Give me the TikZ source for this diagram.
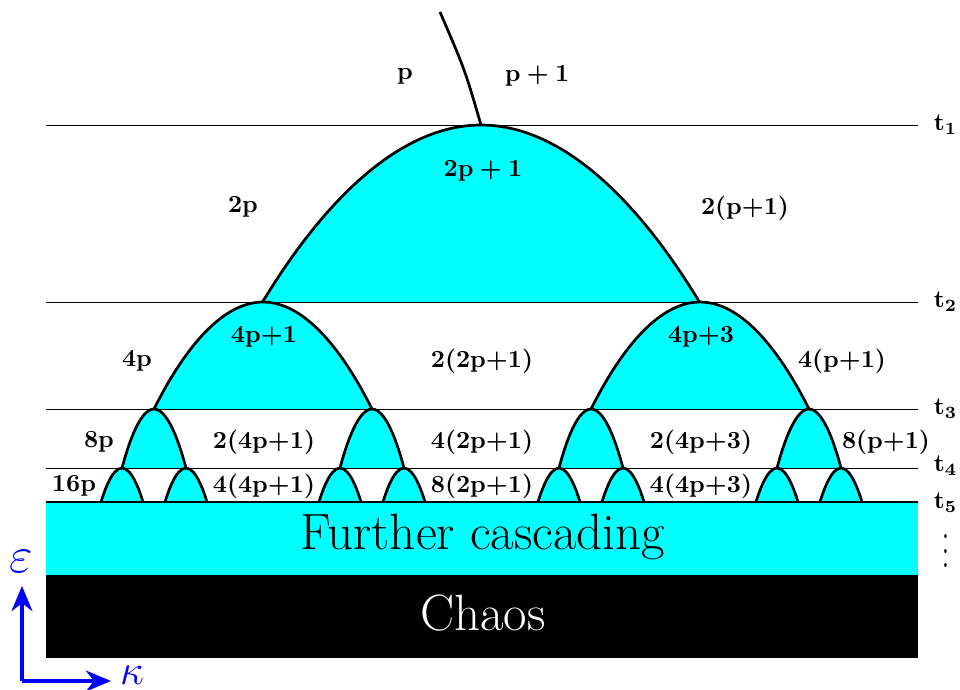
\documentclass[tikz,border=0pt]{standalone}
\usepackage{amsmath}
\usepackage{amssymb}
\usepackage{xcolor}
\usetikzlibrary{arrows.meta}
\definecolor{aqua}{RGB}{0,255,255}

\begin{document}
\begin{tikzpicture}[
  x=0.142857mm, y=-0.142857mm,
  level/.style={line width=0.4pt},
  bumpline/.style={line width=1.1pt},
  lbl/.style={inner sep=1pt, font=\boldmath},
  tlbl/.style={anchor=west, inner sep=1pt, font=\boldmath},
  band/.style={rectangle, inner sep=0pt, font=\huge},
  axis/.style={blue, line width=1.3pt, -{Stealth[length=3.6mm, width=3mm]}}
]
\useasboundingbox (0,0) rectangle (960,689);

% Bands at the bottom
\fill[aqua] (46,502) rectangle (918,575);
\fill[black] (46,575) rectangle (918,658);
\node[band] (casc) at (483,537) {Further cascading};
\node[band, text=white] (chaos) at (483,613) {Chaos};

% Bumps: apex x / apex y / half width / base y
\foreach \xa/\ya/\hw/\yb in {481/125/218.5/302,
    263/302/109/409, 700/302/109/409,
    154/409/32/468, 372/409/32/468, 591/409/32/468, 809/409/32/468,
    122/468/21/502, 186/468/21/502, 340/468/21/502, 404/468/21/502,
    559/468/21/502, 623/468/21/502, 777/468/21/502, 841/468/21/502}
  \fill[aqua] (\xa-\hw,\yb) parabola bend (\xa,\ya) (\xa+\hw,\yb) -- cycle;

% Levels t1 ... t5
\foreach \yl/\name in {125/1, 302/2, 409/3, 468/4} {
  \coordinate (l\name) at (46,\yl);
  \coordinate (r\name) at (918,\yl);
  \draw[level] (l\name) -- (r\name);
}
\coordinate (l5) at (46,502);
\coordinate (r5) at (918,502);
\draw[bumpline] (l5) -- (r5);

\foreach \xa/\ya/\hw/\yb in {481/125/218.5/302,
    263/302/109/409, 700/302/109/409,
    154/409/32/468, 372/409/32/468, 591/409/32/468, 809/409/32/468,
    122/468/21/502, 186/468/21/502, 340/468/21/502, 404/468/21/502,
    559/468/21/502, 623/468/21/502, 777/468/21/502, 841/468/21/502}
  \draw[bumpline] (\xa-\hw,\yb) parabola bend (\xa,\ya) (\xa+\hw,\yb);

% Incoming branch
\coordinate (top) at (440,12);
\coordinate (apex) at (481,125);
\draw[bumpline] (top) .. controls (465,70) .. (apex);

% t labels
\node[tlbl] (t1) at (931,125) {$\mathbf{t_1}$};
\node[tlbl] (t2) at (931,302) {$\mathbf{t_2}$};
\node[tlbl] (t3) at (931,409) {$\mathbf{t_3}$};
\node[tlbl] (t4) at (931,466) {$\mathbf{t_4}$};
\node[tlbl] (t5) at (931,503) {$\mathbf{t_5}$};
\node[lbl] (more) at (946,540) {\scalebox{1}[1.5]{$\vdots$}};

% Row 0
\node[lbl] (p0) at (405,76) {$\mathbf{p}$};
\node[lbl] (p1) at (537,76) {$\mathbf{p+1}$};
% Row 1
\node[lbl] (a1) at (483,171) {$\mathbf{2p+1}$};
\node[lbl] (a0) at (243,207) {$\mathbf{2p}$};
\node[lbl] (a2) at (745,208) {$\mathbf{2(p{+}1)}$};
% Row 2
\node[lbl] (b0) at (137,361) {$\mathbf{4p}$};
\node[lbl] (b1) at (264,337) {$\mathbf{4p{+}1}$};
\node[lbl] (b2) at (482,361) {$\mathbf{2(2p{+}1)}$};
\node[lbl] (b3) at (701,337) {$\mathbf{4p{+}3}$};
\node[lbl] (b4) at (842,361) {$\mathbf{4(p{+}1)}$};
% Row 3
\node[lbl] (c0) at (99,442) {$\mathbf{8p}$};
\node[lbl] (c1) at (264,442) {$\mathbf{2(4p{+}1)}$};
\node[lbl] (c2) at (482,442) {$\mathbf{4(2p{+}1)}$};
\node[lbl] (c3) at (701,442) {$\mathbf{2(4p{+}3)}$};
\node[lbl] (c4) at (886,442) {$\mathbf{8(p{+}1)}$};
% Row 4
\node[lbl] (d0) at (74,486) {$\mathbf{16p}$};
\node[lbl] (d1) at (264,486) {$\mathbf{4(4p{+}1)}$};
\node[lbl] (d2) at (482,486) {$\mathbf{8(2p{+}1)}$};
\node[lbl] (d3) at (701,486) {$\mathbf{4(4p{+}3)}$};

% Axes
\coordinate (origin) at (22,681);
\coordinate (up) at (22,586);
\coordinate (right) at (111,681);
\draw[axis] (origin) -- (up);
\draw[axis] (origin) -- (right);
\node[inner sep=1pt, blue, font=\huge] (eps) at (21,561) {$\varepsilon$};
\node[inner sep=0pt, blue, font=\LARGE] (kap) at (132,675) {$\kappa$};
\end{tikzpicture}
\end{document}
